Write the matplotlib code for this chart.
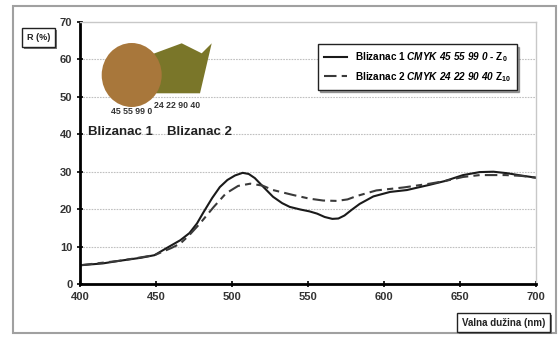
import matplotlib.pyplot as plt
import matplotlib.patches as mpatches
import numpy as np

plt.rcParams['font.family'] = ['Liberation Sans', 'DejaVu Sans']
plt.rcParams['mathtext.fontset'] = 'custom'
plt.rcParams['mathtext.rm'] = 'Liberation Sans:italic:bold'
plt.rcParams['mathtext.it'] = 'Liberation Sans:italic:bold'
plt.rcParams['mathtext.sf'] = 'Liberation Sans:bold'
plt.rcParams['mathtext.bf'] = 'Liberation Sans:bold'

# wavelength (nm) and reflectance R (%)
nm_1 = [400, 415, 426, 440, 449, 457, 466, 472, 477, 481, 487, 492, 497, 502,
        507, 511, 515, 520, 527, 533, 538, 545, 551, 556, 561, 566, 570, 574,
        579, 584, 593, 604, 615, 630, 640, 652, 663, 672, 681, 690, 700]
r_1 = [5.0, 5.5, 6.2, 7.0, 7.7, 9.6, 11.7, 13.6, 16.2, 19.0, 23.0, 25.9, 27.8,
       29.0, 29.7, 29.4, 28.3, 26.2, 23.3, 21.6, 20.6, 19.9, 19.4, 18.8, 17.9,
       17.4, 17.5, 18.3, 19.9, 21.4, 23.4, 24.6, 25.1, 26.5, 27.5, 29.1, 29.9,
       30.0, 29.6, 29.0, 28.4]

nm_2 = [400, 426, 449, 460, 466, 472, 479, 488, 496, 504, 512, 520, 527, 540,
        551, 560, 569, 576, 582, 595, 613, 630, 640, 652, 663, 680, 690, 700]
r_2 = [5.0, 6.2, 7.7, 9.6, 10.8, 13.1, 16.2, 20.6, 24.2, 26.2, 26.8, 26.3, 25.1,
       23.8, 22.8, 22.3, 22.2, 22.6, 23.5, 25.0, 25.8, 26.8, 27.5, 28.6, 29.1,
       29.1, 28.9, 28.4]

label_1 = r'Blizanac 1 $\mathrm{CMYK\ 45\ 55\ 99\ 0}$ - $\mathsf{Z_{0}}$'
label_2 = r'Blizanac 2 $\mathrm{CMYK\ 24\ 22\ 90\ 40}$ $\mathsf{Z_{10}}$'
x_ticks = [400, 450, 500, 550, 600, 650, 700]
y_ticks = [0, 10, 20, 30, 40, 50, 60, 70]

W, H = 558, 340
fig = plt.figure(figsize=(W / 100, H / 100), dpi=100)


def fx(px):
    return px / W


def fy(py):
    return 1 - py / H


# outer chart frame
fig.patches.append(mpatches.Rectangle((fx(13), fy(333)), fx(556) - fx(13), fy(6) - fy(333),
                                      transform=fig.transFigure, fill=False,
                                      edgecolor='#a0a0a0', lw=1.5))

ax = fig.add_axes([fx(80), fy(284), fx(536) - fx(80), fy(22) - fy(284)])
ax.plot(nm_1, r_1, color='#1a1a1a', lw=1.5, label=label_1, solid_joinstyle='round')
ax.plot(nm_2, r_2, color='#3a3a3a', lw=1.5, ls=(0, (6, 2.5, 3, 2.5)), label=label_2)

ax.set_xlim(400, 700)
ax.set_ylim(0, 70)
ax.set_xticks(x_ticks)
ax.set_yticks(y_ticks)
ax.tick_params(direction='inout', length=5, width=1.2, labelsize=8, labelcolor='#333333', pad=3)
for lab in ax.get_xticklabels() + ax.get_yticklabels():
    lab.set_fontweight('bold')
for y in y_ticks[1:-1]:
    ax.axhline(y, color='#c0c0c0', lw=0.8, ls=(0, (1.5, 1)), zorder=0)
ax.spines['left'].set_linewidth(2)
ax.spines['bottom'].set_linewidth(2)
for s in ['top', 'right']:
    ax.spines[s].set_color('#c8c8c8')
    ax.spines[s].set_linewidth(1)

leg = ax.legend(loc='upper left', bbox_to_anchor=(0.51, 0.935), fancybox=False, shadow=True,
                edgecolor='#222222', framealpha=1, handlelength=2.3, borderpad=0.6,
                labelspacing=0.6, prop={'size': 7.2, 'weight': 'bold'})
leg.get_frame().set_linewidth(1)

# colour swatches
poly = [(150, 55), (181.7, 43.3), (201.7, 53.3), (211.7, 43.3), (200, 93.3), (135, 93.3), (135, 60)]
fig.patches.append(mpatches.Polygon([(fx(a), fy(b)) for a, b in poly], closed=True,
                                    transform=fig.transFigure, facecolor='#7a7629',
                                    edgecolor='none', zorder=3))
fig.patches.append(mpatches.Ellipse((fx(131.7), fy(75)), 60 / W, 64 / H,
                                    transform=fig.transFigure, facecolor='#a8773b',
                                    edgecolor='none', zorder=4))
fig.text(fx(132), fy(112), '45 55 99 0', fontsize=6.3, weight='bold', color='#333333',
         ha='center', va='center')
fig.text(fx(177), fy(106), '24 22 90 40', fontsize=6.3, weight='bold', color='#333333',
         ha='center', va='center')
fig.text(fx(120), fy(132), 'Blizanac 1', fontsize=9.5, weight='bold', color='#222222',
         ha='center', va='center')
fig.text(fx(199), fy(132), 'Blizanac 2', fontsize=9.5, weight='bold', color='#222222',
         ha='center', va='center')

# boxed axis labels with a small shadow
for (x0, y0, x1, y1, txt, fs) in [(22, 28, 55, 47, 'R (%)', 6.5),
                                  (457, 313, 550, 332, 'Valna dužina (nm)', 7)]:
    fig.patches.append(mpatches.Rectangle((fx(x0 + 2), fy(y1 + 2)), fx(x1) - fx(x0), fy(y0) - fy(y1),
                                          transform=fig.transFigure, facecolor='#777777',
                                          edgecolor='none', zorder=5))
    fig.patches.append(mpatches.Rectangle((fx(x0), fy(y1)), fx(x1) - fx(x0), fy(y0) - fy(y1),
                                          transform=fig.transFigure, facecolor='white',
                                          edgecolor='#222222', lw=1, zorder=6))
    fig.text(fx((x0 + x1) / 2), fy((y0 + y1) / 2), txt, fontsize=fs, weight='bold',
             color='#222222', ha='center', va='center', zorder=7)

fig.savefig('out.png', dpi=100)
